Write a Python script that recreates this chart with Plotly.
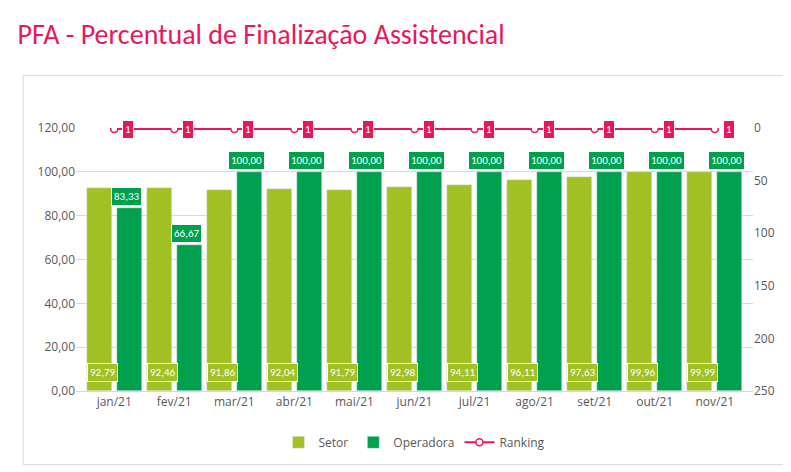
import plotly.graph_objects as go

months = ["jan/21","fev/21","mar/21","abr/21","mai/21","jun/21","jul/21","ago/21","set/21","out/21","nov/21"]
setor = [92.79,92.46,91.86,92.04,91.79,92.98,94.11,96.11,97.63,99.96,99.99]
operadora = [83.33,66.67,100,100,100,100,100,100,100,100,100]
ranking = [1,1,1,1,1,1,1,1,1,1,1]

def br(v): return f"{v:.2f}".replace(".", ",")

LG, DG, RED = "#A2C125", "#00A04F", "#E8175D"
fig = go.Figure()
fig.add_bar(x=months, y=setor, name="Setor", marker_color=LG)
fig.add_bar(x=months, y=operadora, name="Operadora", marker_color=DG)
fig.add_scatter(x=months, y=ranking, name="Ranking", yaxis="y2", mode="lines+markers",
                line=dict(color=RED, width=2),
                marker=dict(symbol="circle", size=7, color="white", line=dict(color=RED, width=1.5)))
ann = []
for i, m in enumerate(months):
    ann.append(dict(x=m, y=4, xref="x", yref="y", text=br(setor[i]), showarrow=False, xshift=-12,
                    yanchor="bottom", font=dict(color="white", size=11, family="Calibri, Liberation Sans"),
                    bgcolor=LG, bordercolor="white", borderwidth=1, borderpad=2))
    ann.append(dict(x=m, y=operadora[i], xref="x", yref="y", text=br(operadora[i]), showarrow=False, xshift=12,
                    yanchor="bottom", yshift=2, font=dict(color="white", size=11, family="Calibri, Liberation Sans"),
                    bgcolor=DG, bordercolor="white", borderwidth=1, borderpad=2))
    ann.append(dict(x=m, y=ranking[i], xref="x", yref="y2", text=str(ranking[i]), showarrow=False, xshift=14,
                    font=dict(color="white", size=11, family="Calibri, Liberation Sans"),
                    bgcolor=RED, bordercolor="white", borderwidth=1, borderpad=2))
fig.update_layout(
    width=791, height=472, paper_bgcolor="white", plot_bgcolor="white",
    title=dict(text="PFA - Percentual de Finalização Assistencial", x=0.012, y=0.965, xanchor="left",
               font=dict(color=RED, size=28, family="Calibri, Liberation Sans")),
    margin=dict(l=68, r=46, t=120, b=89),
    barmode="group", bargap=0.0, bargroupgap=0.0,
    xaxis=dict(tickfont=dict(size=12, color="#595959"), showline=True, linecolor="#d9d9d9"),
    yaxis=dict(range=[0, 120], dtick=20, tickformat=".2f", gridcolor="#d9d9d9",
               tickfont=dict(size=12, color="#595959")),
    yaxis2=dict(overlaying="y", side="right", range=[250, 0], dtick=50, showgrid=False,
                tickfont=dict(size=12, color="#595959")),
    separators=",.",
    legend=dict(orientation="h", x=0.5, xanchor="center", y=-0.14, yanchor="top",
                font=dict(size=12, color="#595959")),
    annotations=ann,
    shapes=[dict(type="rect", xref="paper", yref="paper", x0=-0.078, x1=1.045, y0=-0.28, y1=1.2,
                 line=dict(color="#d9d9d9", width=1))],
)
fig.update_traces(selector=dict(type="bar"), width=0.42)
fig.write_html("out.html")
